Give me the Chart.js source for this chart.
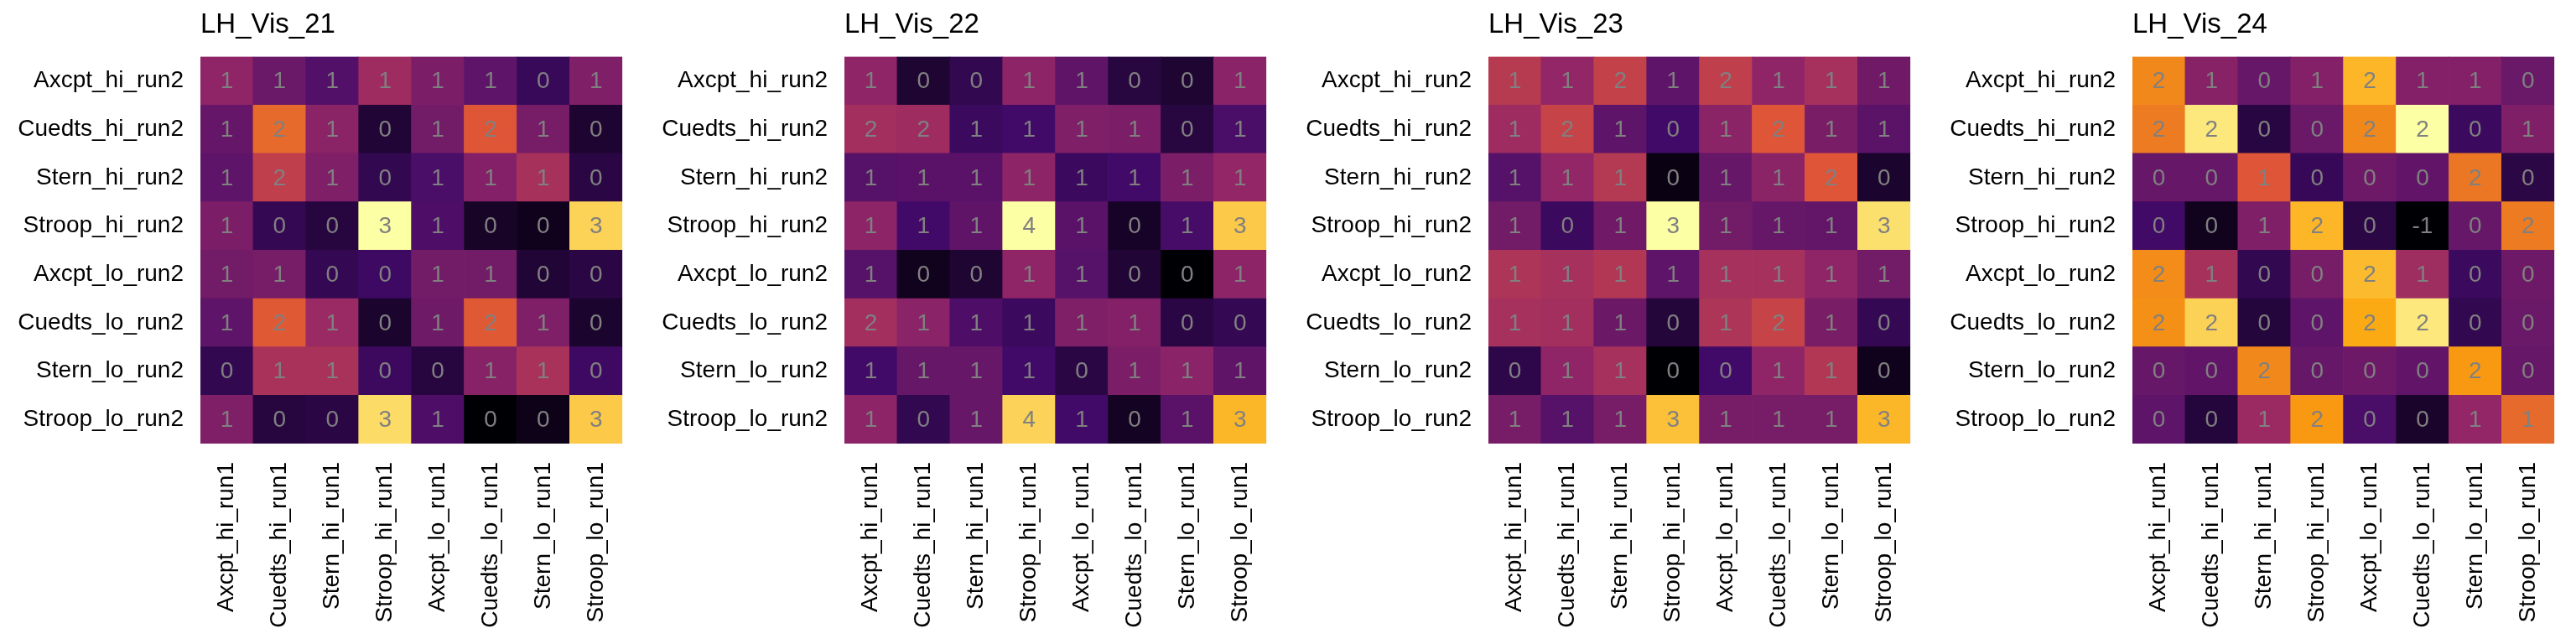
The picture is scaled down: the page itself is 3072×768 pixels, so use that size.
<!DOCTYPE html>
<html>
<head>
<meta charset="utf-8">
<title>LH_Vis heatmaps</title>
<script src="https://cdn.jsdelivr.net/npm/chart.js@4.4.1/dist/chart.umd.min.js"></script>
<style>
    html, body { margin: 0; padding: 0; background: #fff; }
    #wrap { display: flex; width: 3072px; height: 768px; }
    canvas { display: block; }
</style>
</head>
<body>
<div id="wrap">
    <canvas id="c0" width="768" height="768"></canvas>
    <canvas id="c1" width="768" height="768"></canvas>
    <canvas id="c2" width="768" height="768"></canvas>
    <canvas id="c3" width="768" height="768"></canvas>
</div>
<script>
"use strict";

// columns (run1) and rows (run2), rows listed top to bottom
const colLabels = ["Axcpt_hi_run1", "Cuedts_hi_run1", "Stern_hi_run1", "Stroop_hi_run1",
    "Axcpt_lo_run1", "Cuedts_lo_run1", "Stern_lo_run1", "Stroop_lo_run1"];
const rowLabels = ["Axcpt_hi_run2", "Cuedts_hi_run2", "Stern_hi_run2", "Stroop_hi_run2",
    "Axcpt_lo_run2", "Cuedts_lo_run2", "Stern_lo_run2", "Stroop_lo_run2"];

const panelTitles = ["LH_Vis_21", "LH_Vis_22", "LH_Vis_23", "LH_Vis_24"];

// values (cell text is the rounded value)
const vis21 = [
    [1.20, 0.87, 0.65, 1.35, 1.02, 0.76, 0.39, 1.06],
    [0.83, 2.20, 1.17, 0.13, 0.94, 2.02, 0.98, 0.09],
    [0.76, 1.68, 1.06, 0.32, 0.57, 1.09, 1.43, 0.24],
    [1.02, 0.35, 0.20, 3.46, 0.61, 0.02, -0.06, 3.09],
    [0.94, 0.98, 0.35, 0.46, 0.94, 0.94, 0.13, 0.24],
    [0.76, 2.05, 1.31, 0.06, 0.91, 2.05, 1.06, 0.06],
    [0.32, 1.45, 1.45, 0.43, 0.20, 1.13, 1.45, 0.46],
    [1.06, 0.20, 0.24, 3.16, 0.61, -0.24, -0.09, 3.02]
];
const vis22 = [
    [1.42, 0.17, 0.42, 1.40, 0.92, 0.29, 0.17, 1.37],
    [1.63, 1.58, 0.54, 0.62, 1.25, 1.21, 0.29, 0.71],
    [0.83, 0.87, 0.87, 1.40, 0.54, 0.62, 1.21, 1.46],
    [1.40, 0.62, 0.92, 3.96, 0.87, 0.08, 0.67, 3.46],
    [0.83, 0.00, 0.17, 1.42, 0.83, 0.21, -0.21, 1.40],
    [1.63, 1.37, 0.75, 0.54, 1.25, 1.29, 0.33, 0.46],
    [0.62, 1.00, 1.00, 0.62, 0.33, 1.21, 1.37, 0.92],
    [1.40, 0.42, 1.00, 3.55, 0.62, 0.04, 0.87, 3.29]
];
const vis23 = [
    [1.45, 1.12, 1.57, 0.67, 1.53, 1.09, 1.29, 0.81],
    [1.22, 1.60, 0.67, 0.43, 1.05, 1.84, 0.91, 0.64],
    [0.60, 1.12, 1.43, -0.16, 0.74, 1.05, 1.84, 0.02],
    [0.84, 0.36, 0.81, 3.19, 0.84, 0.74, 0.71, 2.95],
    [1.36, 1.29, 1.40, 0.67, 1.29, 1.29, 1.09, 0.84],
    [1.29, 1.26, 0.78, 0.12, 1.36, 1.60, 0.91, 0.29],
    [0.22, 1.09, 1.29, -0.26, 0.43, 1.09, 1.40, -0.09],
    [0.88, 0.60, 0.88, 2.71, 0.88, 0.88, 0.88, 2.64]
];
const vis24 = [
    [1.65, 0.58, 0.34, 0.55, 1.97, 0.55, 0.55, 0.37],
    [1.56, 2.30, -0.16, 0.37, 1.65, 2.45, 0.01, 0.52],
    [0.34, 0.34, 1.29, -0.02, 0.40, 0.31, 1.53, -0.13],
    [0.07, -0.37, 0.52, 1.97, -0.13, -0.52, 0.34, 1.56],
    [1.68, 0.82, -0.07, 0.46, 2.00, 0.76, 0.01, 0.40],
    [1.71, 2.15, -0.19, 0.28, 1.89, 2.30, -0.07, 0.37],
    [0.34, 0.31, 1.65, 0.34, 0.40, 0.31, 1.77, 0.34],
    [0.28, -0.19, 0.73, 1.77, 0.13, -0.28, 0.67, 1.44]
];

const panels = [vis21, vis22, vis23, vis24];

// inferno(6), blended linearly in between
const inferno = ["#000004", "#420a68", "#932667", "#dd513a", "#fca50a", "#fcffa4"];

const hexToRgb = h => [1, 3, 5].map(i => parseInt(h.slice(i, i + 2), 16));

const infernoColor = t => {
    t = Math.max(0, Math.min(1, t));
    const pos = t * (inferno.length - 1);
    const i = Math.min(Math.floor(pos), inferno.length - 2);
    const f = pos - i;
    const a = hexToRgb(inferno[i]);
    const b = hexToRgb(inferno[i + 1]);
    const c = a.map((v, k) => Math.round(v + (b[k] - v) * f));
    return `rgb(${c[0]},${c[1]},${c[2]})`;
};

const FONT = "'Liberation Sans', Arial, Helvetica, sans-serif";

// writes the rounded value into every cell
const cellText = {
    id: "cellText",
    afterDatasetsDraw(chart) {
        const ctx = chart.ctx;
        ctx.save();
        ctx.fillStyle = "#808080";
        ctx.font = `28px ${FONT}`;
        ctx.textAlign = "center";
        ctx.textBaseline = "middle";
        chart.data.datasets.forEach((ds, d) => {
            const meta = chart.getDatasetMeta(d);
            meta.data.forEach((bar, c) => {
                const p = bar.getProps(["x", "y", "base"], true);
                const txt = String(Math.round(ds.values[c]));
                ctx.fillText(txt === "-0" ? "0" : txt, p.x, (p.y + p.base) / 2 + 1);
            });
        });
        ctx.restore();
    }
};

const buildChart = (canvasId, title, values) => {
    const flat = values.flat();
    const lo = Math.min(...flat);
    const hi = Math.max(...flat);

    // one stacked dataset per row, bottom row first
    const datasets = rowLabels.map((_, d) => {
        const rowVals = values[rowLabels.length - 1 - d];
        return {
            label: rowLabels[rowLabels.length - 1 - d],
            data: colLabels.map(() => 1),
            values: rowVals,
            backgroundColor: rowVals.map(v => infernoColor((v - lo) / (hi - lo))),
            borderWidth: 0,
            barPercentage: 1,
            categoryPercentage: 1
        };
    });

    new Chart(document.getElementById(canvasId), {
        type: "bar",
        data: { labels: colLabels, datasets: datasets },
        plugins: [cellText],
        options: {
            responsive: false,
            animation: false,
            layout: { padding: { left: 0, right: 21, top: 0, bottom: 0 } },
            plugins: {
                legend: { display: false },
                tooltip: { enabled: false },
                title: {
                    display: true,
                    text: title,
                    align: "start",
                    fullSize: false,
                    color: "#000",
                    font: { family: FONT, size: 33, weight: "normal" },
                    padding: { top: 10, bottom: 18 }
                }
            },
            scales: {
                x: {
                    type: "category",
                    stacked: true,
                    grid: { display: false, drawTicks: false },
                    border: { display: false },
                    ticks: {
                        autoSkip: false,
                        minRotation: 90,
                        maxRotation: 90,
                        padding: 22,
                        color: "#000",
                        font: { family: FONT, size: 28 }
                    },
                    afterFit: s => { s.height = 239; }
                },
                y: {
                    type: "linear",
                    stacked: true,
                    min: 0,
                    max: rowLabels.length,
                    grid: { display: false, drawTicks: false },
                    border: { display: false },
                    afterBuildTicks: s => {
                        s.ticks = rowLabels.map((_, i) => ({ value: i + 0.5 }));
                    },
                    ticks: {
                        autoSkip: false,
                        padding: 20,
                        color: "#000",
                        font: { family: FONT, size: 28 },
                        callback: v => rowLabels[rowLabels.length - 1 - Math.floor(v)]
                    },
                    afterFit: s => { s.width = 239; }
                }
            }
        }
    });
};

document.addEventListener("DOMContentLoaded", () => {
    panels.forEach((vals, i) => buildChart(`c${i}`, panelTitles[i], vals));
});
</script>
</body>
</html>
